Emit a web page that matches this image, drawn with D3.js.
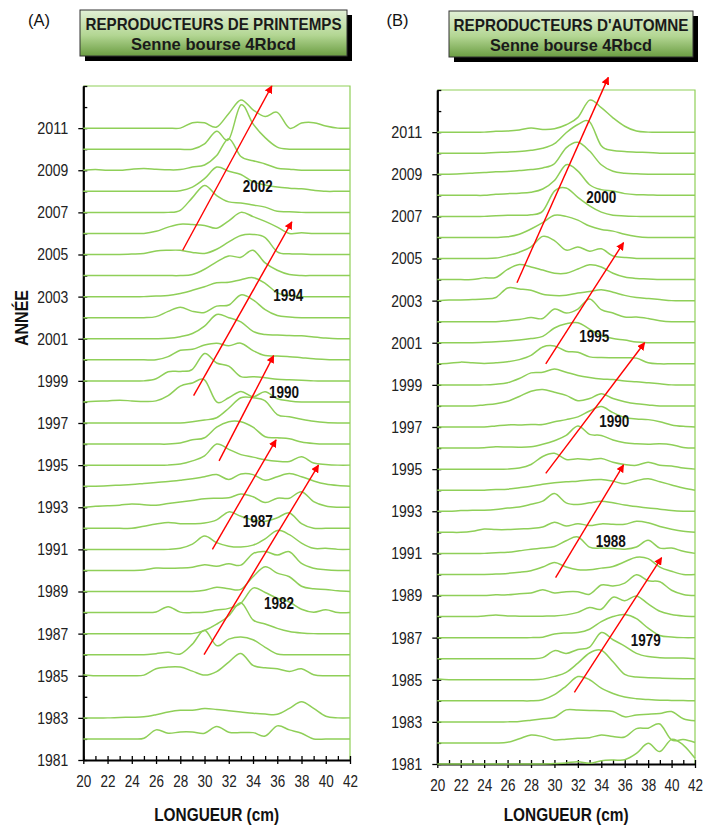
<!DOCTYPE html>
<html><head><meta charset="utf-8">
<script src="https://cdn.jsdelivr.net/npm/d3@7"></script>
<style>body{margin:0;background:#fff}svg{display:block}</style>
</head><body>
<svg id="chart" width="706" height="825"></svg>
<script>
// ---------- DATA ----------
const lengthsCm = d3.range(20, 43);           // 20..42 cm
const lengthTicks = d3.range(20, 43);
const yearTicks = d3.range(1981, 2014);
const yearLabels = d3.range(1981, 2012, 2);

// Spring spawners (A): relative frequency (10 = one year spacing)
const springYears = [1982,1983,1985,1986,1987,1988,1989,1990,1991,1992,1993,1994,1995,1996,1997,1998,1999,2000,2001,2002,2003,2004,2005,2006,2007,2008,2009,2010,2011];
const springFreq = [
 [0,0,0,0,0,0.3,4.3,2.7,3.3,3.3,2.7,5.9,3.2,3,3,1.4,6.2,4.3,2.7,0,0,0,0],
 [0,0,0,0.2,0.3,0.5,1.5,2.8,3.6,3.6,4.4,4,3.4,2.8,2.2,1.8,1.7,4.5,7.6,4.5,0.8,0,0],
 [0.5,0,0,0,0,0.3,3.3,4.1,4.1,2.2,0.3,2,6.5,10.6,4.9,3.8,3.3,2,3.3,0.5,0,0,0],
 [0,0,0,0,0,0,0.5,1.1,0.3,5,11.6,4.3,7.4,8.4,7.1,3.5,0.3,0,0,0,0,0,0],
 [0,0,0,0,0,0,0,0,0,0,1.5,4.5,8.5,14.7,6.5,4.6,2.5,1,0.3,0,0,0,0],
 [0,0,0,0,0,0,0.3,2.8,0.2,0,0.2,1.2,2,4.5,11.6,9.5,6.8,5,1.6,0.2,1.3,0,0],
 [0,0,0,0,0,0,0,0,0,0,0.6,2,1.3,1,7,11.7,8.7,7,2.5,1.3,1,0.3,0],
 [0,0,0,0,0,0.2,1.1,1,1.1,1.5,2.7,2,3.2,2.5,8,9,7.3,8.9,3.3,1,0.3,0,0],
 [0,0,0,0,0,0,0,0,0.5,2.5,6.3,3.2,1.5,1.1,2,5,9,7,3,0.5,0.5,0,0],
 [0,0,0,0,0,1,2,2.8,2.2,2.2,2.5,4,7.8,5.7,4,3.3,5,7.3,2.2,0,0,0,0],
 [0,0.5,0.7,1,1.6,1.2,1,1.8,2.5,3.2,4,4.3,4.5,6.3,5,2.2,4.3,4.3,7.4,2.7,0.6,0,0],
 [0,0,0.2,0.5,0.8,1.3,1.8,2.2,2.8,3.5,4.5,5.5,3.2,5.8,5.5,2.8,4.5,6,4.5,2.5,1,0.3,0],
 [0,0,0,0,0,0,0,0,0.5,2,4.4,10,7.5,5,3.8,2.5,1.8,1.7,4,1,0.3,0,0],
 [0,0,0,0,0,0,0,0,0.5,2,3,8,10.6,10.6,8,3.5,3,2.5,1,0.3,0,0,0],
 [0,0,0,0,0,0,0,0,0,0.6,1.4,2.5,7,12,12,10.5,4,3,1.8,0.8,0.2,0,0],
 [0,0.3,0.5,0.8,0.5,0.2,0.5,3,7.5,9,10.5,0,2,5,2.5,4.8,1.5,0.5,0,0,0,0,0],
 [0,0,0,0,0,0,1,4.3,4.5,5.5,13,8.5,7,2,2,1.5,0.8,0.5,0.3,0,0,0,0],
 [0,0,0,0,0,0,0,1.5,4.5,5,7,7.9,6.7,7.9,4.4,2,1.8,1.5,1,0.5,0.2,0,0],
 [0,0,0,0,0,0,0,0.2,1,2.5,6,11.5,10,8,3.5,2,1.8,1.5,1.4,0.8,0.3,0,0],
 [0,0,0,0,0,0,0.5,3,5,3,2.5,5.5,6,10.8,8.5,3.8,1,0.3,0,0,0,0,0],
 [0,0,0,0,0,0,0.3,0.5,1.5,3,4.7,6.6,6.8,8,9,6.3,1.8,0.5,0,0,0,0,0],
 [0,0,0,0,0,0,0,0,0,0.5,3,6.5,9.3,8.7,12,6,2.5,0.5,0,0,0,0,0],
 [0,0,0,0,0.2,0.5,1.7,2,2,1,0.5,2.5,6,9,9.5,8,1.3,0.3,0.2,0,0,0,0],
 [0,0,0,0,0,0,1,3,4.4,4.2,3.8,2.5,6,10,8,5.7,3,0,0.3,0,0,0,0],
 [0,0,0,0,0,0,0,0,1,7,12.8,8,5,4.5,3.5,2.5,0.5,0.3,0,0,0,0,0],
 [0,0,0,0,0,0,0,0,0.3,2,6,11.5,9.5,8,4.5,3,2,1.5,1.2,0.5,0,0,0],
 [0,0.3,0,0,0.5,0.8,0.5,0.2,0.3,1.5,2.5,7,15,6.5,4.5,3,1,0.5,0,0,0,0,0],
 [0,0,0,0,0,0,0,0,0,0,2.5,8.5,4.6,21,12,5.5,1,0,0,0,0,0,0],
 [0,0,0,0,0,0,0,0,0,2.6,2.5,0.5,7,13.4,8.7,5.5,7.5,0,2.4,2.6,1,0,0]
];

// Autumn spawners (B)
const autumnYears = d3.range(1981, 2012);
const autumnFreq = [
 [0,0,0,0,0,0,0,0,0,0,0.2,0.5,1.1,0.3,1.5,1.9,2,5,9.8,5.9,11.7,9,2.7],
 [0,0,0,0,0,0,0.3,2,3.8,3,1.4,1.8,2.2,2.5,3.8,3,2.8,6.8,7,9,1.5,1.6,0.2],
 [0,0,0,0,0,0,0,0.2,0.8,1.5,2.2,5.7,5.6,5.4,5.3,4.9,2.4,3.3,3.6,4,4.9,1.5,0.5],
 [0,0,0,0,0,0,0,0,0,0.5,2.9,7,11.5,10,6,3.5,1.8,1,0.6,0.3,0.2,0.1,0],
 [0.3,0,0,0,0,0,0,0,0,0.3,1.6,3.5,7.9,12.7,14,8.5,2.5,1.3,1,0.8,0.6,0.5,0.5],
 [0,0,0,0,0,0,0,0,0,0.5,3.8,2.5,4.4,5.5,12.4,9,6,2.5,1,0.5,0.3,0.3,0],
 [0,0,0,0,0,0,0,0,0,0.2,1.7,2.2,2.4,4,7.6,10,11,9,4.5,1,0.3,0,0],
 [0,0,0,0,0.3,0.8,0.3,0.2,0.1,0.2,0.3,0.8,2,4.3,3.5,9.2,7.5,9.8,6,2.5,1,0.3,0],
 [0,0,0,0,0,0.3,0.3,0.8,1.2,2.7,1.2,1.8,1.8,0.6,5,4.5,5.9,9.8,7,6.5,2.5,0.5,0],
 [0,0,0,0,0,0.2,0.5,1,1.8,3.5,5.7,3.5,2.2,2.2,3,3.8,6,8.2,7.5,3.5,1.5,0,0],
 [0,0,0,0,0,0.3,0.5,1.2,2,2.5,3.3,6,7.8,3,2.5,2.3,2,3,6.2,2.5,2.5,1,0],
 [0,0,0,0.5,1.6,1.3,1.3,1.6,1.8,2.5,4.8,3,4.1,3.2,4,3.8,3.8,5.2,4.5,2.8,1.5,0.5,0],
 [0,0,0.3,0.5,0.5,0.8,1.5,2,3.3,4.8,8.4,4,3.2,4,4.8,4,3,2.2,1.5,1,0.3,0,0],
 [0,0,0,0,0,0.3,0.5,1.2,1.9,2.8,3.5,4,4.3,4.8,5.1,4.3,3,4.5,5.4,4,2.5,1,0],
 [0,0,0,0,0,0,0,0.5,2.2,6,7.5,4.6,4.9,4.5,5,3.3,2.2,1.8,3.3,1.8,1.5,0.5,0],
 [0,0,0,0,0.2,0.6,0.5,0.4,0.6,1.8,3.5,6,10.5,6.5,6,3.8,2.5,2,1.8,2,1.6,0.3,0],
 [0,0,0,0,0,0.5,1,1,1.2,1.2,2.5,3.5,4.8,7.6,9.7,6.8,4.5,3.8,3.5,2.5,1,0.3,0],
 [0,0,0,0,0.5,1,2.2,4.5,7,7.8,6.5,5,2.5,3.5,5.8,3.5,2,1,0.5,0,0,0,0],
 [0,0,0,0,0,0.3,1,3,5.7,6,7.5,6,4.5,3.5,2.8,2.5,1.8,1.5,1,0.5,0,0,0],
 [0,0.3,0.8,0.5,0.2,0.5,1,2,4,8,8.5,6,5.5,3.3,3,2.9,2.9,2.7,0.5,0,0,0,0],
 [0,0,0,0,0.2,0.5,0.8,1.3,2,3,7,9,9.5,6.5,3.5,2,1.3,0.3,0,0,0,0,0],
 [0,0,0,0,0,0,0.5,1,2,1.5,6,4.1,6,10.8,5.7,4.1,2.2,2.2,1.5,0.5,0,0,0],
 [0,0.3,0.3,0.5,0.8,1.5,6,5.5,4.9,3,2.4,2.5,3.6,4.3,5.2,4,2.5,1.5,1,0.5,0,0,0],
 [0,0,0,0,0.8,1,4.8,7.1,6,4.5,3,3,5,7,6,3,1.2,0.5,0.3,0,0,0,0],
 [0,0,0,0,0,0.2,1.4,3,5.5,10.5,8.5,4,5.5,3.5,4.6,1.2,0.5,0,0,0,0,0,0],
 [0,0,0,0,0,0,0.3,1.5,4,7,10.5,10,8.2,5.4,3.8,3,1.5,0.5,0,0,0,0,0],
 [0,0,0,0,0,0.3,0.5,0.5,0.8,2.5,12,13.5,9,5,2,0.5,0.2,0,0,0,0,0,0],
 [0,0,0,0,0,0.5,0.8,1,1.5,3,7,14.5,11.5,5,2.7,2,0.8,0.3,0.2,0,0,0,0],
 [0,0,0.2,0.5,0.8,1.2,1.3,1.8,2.2,3,5,12.5,15.2,11,4.5,1.4,0.5,0.2,0,0,0,0,0],
 [0,0,0,0,0,0.3,0.5,0.8,1.4,2.3,4.5,9.7,13.6,14.9,3.5,1.3,0.8,0.5,0.3,0,0,0,0],
 [0,0,0,0,0,0.4,0.5,1,2,1.3,1.6,3.5,7,15.2,11.6,6.8,2.8,0.5,0,0,0,0,0]
];

// Cohort arrows: [startCm, startYear, endCm, endYear]
const springArrows = [[28.2,2005.2,35.55,2013.0],[29.1,1998.3,37.2,2006.55],[31.2,1995.2,35.7,2000.2],[30.65,1991.0,35.9,1996.2],[29.96,1986.0,39.4,1995.0]];
const springCohorts = ["2002","1994","1990","1987","1982"];
const springCohortPos = [[34.4,2008.25],[36.9,2003.1],[36.55,1998.45],[34.4,1992.35],[36.15,1988.45]];
const autumnArrows = [[26.8,2003.85,34.6,2013.6],[29.26,2000.0,35.9,2005.75],[29.26,1994.8,37.7,2001.0],[30.1,1989.85,35.9,1995.2],[31.7,1984.4,39.15,1990.8]];
const autumnCohorts = ["2000","1995","1990","1988","1979"];
const autumnCohortPos = [[34.0,2007.9],[33.4,2001.3],[35.1,1997.3],[34.8,1991.6],[37.8,1986.9]];

// ---------- DRAWING ----------
const FONT = "'Liberation Sans',Arial,sans-serif";
const svg = d3.select("#chart");
const GREEN = "#8fcf58";

const defs = svg.append("defs");
const grad = defs.append("linearGradient").attr("id","boxgrad").attr("x1",0).attr("y1",0).attr("x2",0).attr("y2",1);
grad.append("stop").attr("offset","0%").attr("stop-color","#e2f0d6");
grad.append("stop").attr("offset","55%").attr("stop-color","#b3d693");
grad.append("stop").attr("offset","100%").attr("stop-color","#6b9d42");
defs.append("marker").attr("id","arrowhead").attr("viewBox","0 0 10 10")
  .attr("refX",9).attr("refY",5).attr("markerWidth",8).attr("markerHeight",8)
  .attr("markerUnits","userSpaceOnUse").attr("orient","auto")
  .append("path").attr("d","M0,0 L10,5 L0,10 Z").attr("fill","#ff0000");

function narrowText(sel, len){
  sel.attr("textLength", len).attr("lengthAdjust","spacingAndGlyphs");
}

function panel(cfg){
  const x = d3.scaleLinear().domain([20,42]).range([cfg.left, cfg.right]);
  const y = d3.scaleLinear().domain([1981,2013]).range([cfg.bottom, cfg.top]);
  const g = svg.append("g");

  // title box
  const b = cfg.box;
  g.append("rect").attr("x",b.x+5).attr("y",b.y+5).attr("width",b.w).attr("height",b.h).attr("fill","#000");
  g.append("rect").attr("x",b.x).attr("y",b.y).attr("width",b.w).attr("height",b.h)
    .attr("fill","url(#boxgrad)").attr("stroke","#333").attr("stroke-width",1);
  const cx = b.x + b.w/2;
  g.append("text").attr("x",cx).attr("y",b.y+20).attr("text-anchor","middle")
    .attr("font-family",FONT).attr("font-weight","bold").attr("font-size",16.5)
    .attr("fill","#1a1a1a").call(narrowText, cfg.t1Len).text(cfg.title1);
  g.append("text").attr("x",cx).attr("y",b.y+40).attr("text-anchor","middle")
    .attr("font-family",FONT).attr("font-weight","bold").attr("font-size",17)
    .attr("fill","#1a1a1a").call(narrowText, cfg.t2Len).text(cfg.title2);
  g.append("text").attr("x",cfg.tagX).attr("y",26).attr("text-anchor","middle")
    .attr("font-family",FONT).attr("font-size",17).attr("fill","#111").call(narrowText, 22).text(cfg.tag);

  // plot frame (top & right)
  g.append("path").attr("d",`M${x(20)},${y(2013)}H${x(42)}V${y(1981)}`)
    .attr("fill","none").attr("stroke",GREEN).attr("stroke-width",1.2);

  // axes
  const ya = g.append("g").attr("transform",`translate(${x(20)},0)`)
    .call(d3.axisLeft(y).tickValues(yearTicks).tickFormat(d => yearLabels.includes(d) ? d : "").tickSizeOuter(0));
  ya.select(".domain").attr("stroke","#000").attr("stroke-width",2.2);
  ya.selectAll(".tick line").attr("stroke","#000").attr("stroke-width",1.3)
    .attr("x1", d => yearLabels.includes(d) ? -5 : 0).attr("x2", 4);
  ya.selectAll(".tick text").attr("x",-15).attr("font-family",FONT).attr("font-size",17).attr("fill","#222")
    .each(function(d){ if (yearLabels.includes(d)) d3.select(this).call(narrowText, 31); });

  const xa = g.append("g").attr("transform",`translate(0,${y(1981)})`)
    .call(d3.axisBottom(x).tickValues(lengthTicks).tickFormat(d => d%2===0 ? d : "").tickSizeOuter(0));
  xa.select(".domain").attr("stroke","#000").attr("stroke-width",2.2);
  xa.selectAll(".tick line").attr("stroke","#000").attr("stroke-width",1.3)
    .attr("y1",-4).attr("y2", d => d%2===0 ? 4 : 0);
  xa.selectAll(".tick text").attr("y",27).attr("dy",0).attr("font-family",FONT).attr("font-size",17).attr("fill","#222")
    .each(function(d){ if (d%2===0) d3.select(this).call(narrowText, 15); });

  // ridgelines
  const line = d3.line().curve(d3.curveCardinal.tension(0));
  cfg.years.forEach((yr, i) => {
    const pts = lengthsCm.map((cm, j) => [x(cm), y(yr + cfg.freq[i][j]/10)]);
    g.append("path").attr("d", line(pts)).attr("fill","none")
      .attr("stroke",GREEN).attr("stroke-width",1.5);
  });

  // arrows
  cfg.arrows.forEach(a => {
    g.append("line").attr("x1",x(a[0])).attr("y1",y(a[1])).attr("x2",x(a[2])).attr("y2",y(a[3]))
      .attr("stroke","#ff0000").attr("stroke-width",1.4).attr("marker-end","url(#arrowhead)");
  });
  cfg.cohorts.forEach((t,i) => {
    g.append("text").attr("x",x(cfg.cohortPos[i][0])).attr("y",y(cfg.cohortPos[i][1]))
      .attr("text-anchor","middle").attr("dominant-baseline","central")
      .attr("font-family",FONT).attr("font-weight","bold").attr("font-size",16.5).attr("fill","#111")
      .call(narrowText, 30).text(t);
  });

  // x label
  g.append("text").attr("x",(cfg.left+cfg.right)/2).attr("y",821).attr("text-anchor","middle")
    .attr("font-family",FONT).attr("font-weight","bold").attr("font-size",19).attr("fill","#111")
    .call(narrowText, 125).text("LONGUEUR (cm)");
}

panel({left:83.3,right:350,top:86,bottom:760,
  box:{x:80,y:10,w:267,h:46},title1:"REPRODUCTEURS DE PRINTEMPS",title2:"Senne bourse  4Rbcd",t1Len:256,t2Len:165,
  tag:"(A)",tagX:39,years:springYears,freq:springFreq,arrows:springArrows,cohorts:springCohorts,cohortPos:springCohortPos});
panel({left:437.3,right:695,top:90,bottom:764,
  box:{x:449,y:11,w:244,h:46},title1:"REPRODUCTEURS D'AUTOMNE",title2:"Senne bourse 4Rbcd",t1Len:235,t2Len:162,
  tag:"(B)",tagX:397.5,years:autumnYears,freq:autumnFreq,arrows:autumnArrows,cohorts:autumnCohorts,cohortPos:autumnCohortPos});

// y label
svg.append("text").attr("transform","translate(22,318) rotate(-90)").attr("text-anchor","middle")
  .attr("dominant-baseline","central").attr("font-family",FONT).attr("font-weight","bold")
  .attr("font-size",18).attr("fill","#111").call(narrowText, 56).text("ANNÉE");
</script>
</body></html>
